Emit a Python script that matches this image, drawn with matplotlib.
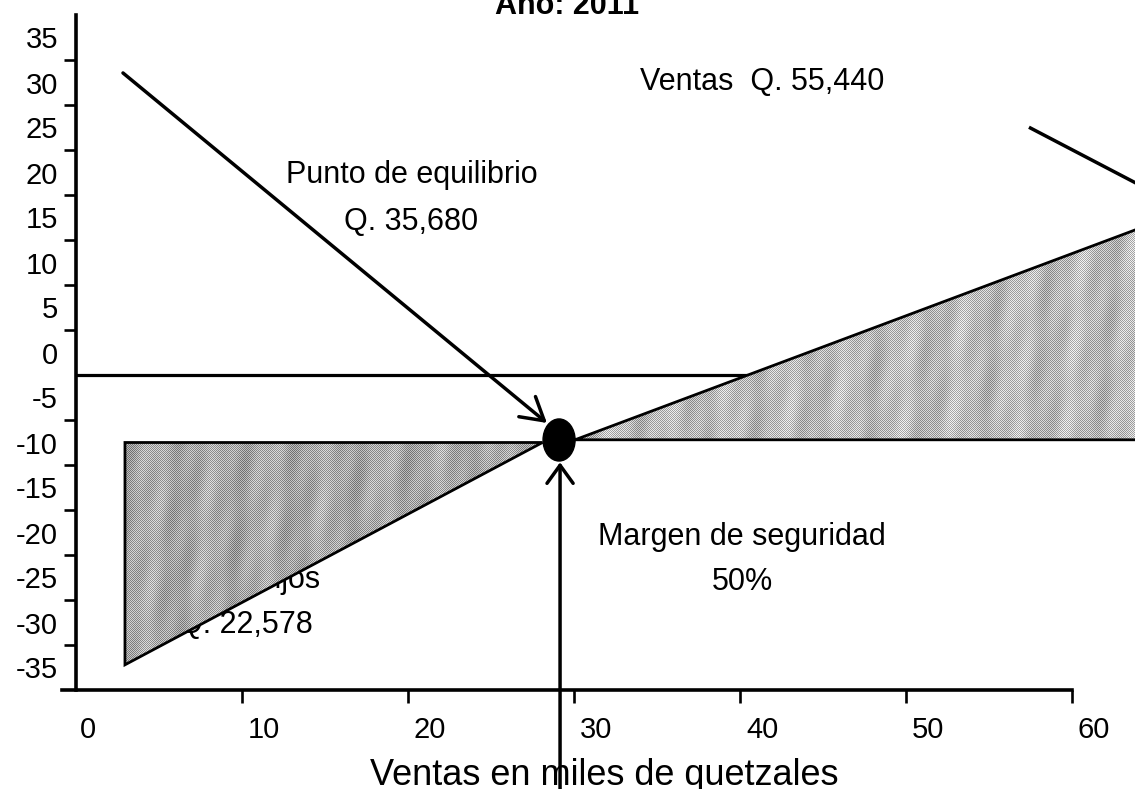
import numpy as np
import matplotlib
matplotlib.use("Agg")
import matplotlib.pyplot as plt
from matplotlib.patches import Polygon, Ellipse
from matplotlib.transforms import ScaledTranslation

plt.rcParams['font.family'] = ['Liberation Sans', 'DejaVu Sans']

# ---- data -------------------------------------------------------------
title = "Año: 2011"
x_label = "Ventas en miles de quetzales"
x_ticks = [0, 10, 20, 30, 40, 50, 60]
x_tick_labels = ["0", "10", "20", "30", "40", "50", "60"]
y_label_values = [35, 30, 25, 20, 15, 10, 5, 0, -5, -10, -15, -20, -25, -30, -35]
y_tick_labels = [str(v) for v in y_label_values]
y_tick_marks = [32.5, 27.5, 22.5, 17.5, 12.5, 7.5, 2.5,
                -7.5, -12.5, -17.5, -22.5, -27.5, -32.5]

# fixed-cost line
fixed_x = [0, 40.5]
fixed_y = [-2.5, -2.5]

# loss area (triangle)
loss_x = [2.95, 28.1, 2.95]
loss_y = [-10.0, -10.0, -34.7]

# profit area (triangle)
profit_x = [30.06, 64.5, 64.5]
profit_y = [-9.7, 14.1, -9.7]

# break-even point
be_x, be_y = 29.1, -9.72

# arrows
arrow1_start = (2.83, 31.06)
arrow1_end = (28.37, -7.83)
arrow2_start = (29.16, -50.0)
arrow2_end = (29.16, -12.2)

# line at the top right
tr_x = [57.5, 64.5]
tr_y = [24.94, 18.2]

annotations = [
    ("Ventas  Q. 55,440", 33.98, 29.2, 'left'),
    ("Punto de equilibrio", 20.24, 18.83, 'center'),
    ("Q. 35,680", 20.2, 13.61, 'center'),
    ("Margen de seguridad", 40.12, -21.39, 'center'),
    ("50%", 40.12, -26.39, 'center'),
]
hidden_annotations = [
    ("Costos fijos", 10.0, -26.17),
    ("Q. 22,578", 10.24, -31.17),
]

# ---- figure -----------------------------------------------------------
W, H = 1135, 789
fig = plt.figure(figsize=(W / 100, H / 100), dpi=100)
ax = fig.add_axes([0, 0, 1, 1])
ax.set_facecolor('white')
xlim = (-76 / 16.6, (W - 76) / 16.6)
ylim = (37.5 - (H - 15) / 9, 37.5 + 15 / 9)

for s in ['top', 'right']:
    ax.spines[s].set_visible(False)
ax.spines['left'].set_position(('data', 0))
ax.spines['left'].set_bounds(-37.5, 37.5)
ax.spines['bottom'].set_position(('data', -37.5))
ax.spines['bottom'].set_bounds(-0.85, 60)
for s in ['left', 'bottom']:
    ax.spines[s].set_linewidth(2.6)
    ax.spines[s].set_zorder(5)

# y ticks: marks at boundaries, labels centered in intervals
ax.set_yticks(y_tick_marks)
ax.set_yticklabels([])
ax.set_yticks(y_label_values, minor=True)
ax.set_yticklabels(y_tick_labels, minor=True)
ax.tick_params(axis='y', which='major', direction='out', length=8.6, width=1.9)
ax.tick_params(axis='y', which='minor', length=0, pad=13, labelsize=21)

# x ticks
ax.set_xticks(x_ticks)
ax.set_xticklabels(x_tick_labels)
ax.tick_params(axis='x', which='major', direction='out', length=9.4, width=1.9,
               pad=9, labelsize=21)
ticks = ax.xaxis.get_major_ticks()
ticks[0].tick1line.set_visible(False)
offsets_px = [12, 22, 22, 22, 22, 22, 22]
for t, off in zip(ticks, offsets_px):
    t.label1.set_transform(t.label1.get_transform() +
                           ScaledTranslation(off / 100, 0, fig.dpi_scale_trans))

ax.set_xlabel(x_label, fontsize=26, va='baseline')
ax.xaxis.set_label_coords(604.5 / W, 1 - 785 / H)

# title (cut at the top)
fig.text(0.5, 1 - 14 / H, title, ha='center', va='baseline',
         fontsize=22, fontweight='bold')

# hidden text (under the loss area)
for txt, x, y in hidden_annotations:
    ax.text(x, y, txt, ha='center', va='baseline', fontsize=22, zorder=2)

# fixed line
ax.plot(fixed_x, fixed_y, color='black', lw=2.3, zorder=3, solid_capstyle='butt')

# scanned-looking texture for the shaded areas
yy, xx = np.mgrid[0:H, 0:W]
checker = ((xx + yy) % 2) * 2 - 1


def texture(base):
    tone = (base
            + 0.035 * np.sin(2 * np.pi * xx / 57.0 + yy / 140.0)
            + 0.025 * np.sin(2 * np.pi * xx / 23.0 + yy / 35.0)
            + 0.02 * np.sin(2 * np.pi * (xx + 0.6 * yy) / 41.0))
    return np.clip(tone + 0.15 * checker, 0, 1)


for px, py, base in [(loss_x, loss_y, 0.66), (profit_x, profit_y, 0.73)]:
    poly = Polygon(np.column_stack([px, py]), closed=True,
                   facecolor='none', edgecolor='black', lw=2.0, zorder=4.5)
    ax.add_patch(poly)
    im = ax.imshow(texture(base), cmap='gray', vmin=0, vmax=1,
                   extent=(xlim[0], xlim[1], ylim[0], ylim[1]), origin='upper',
                   interpolation='nearest', aspect='auto', zorder=4)
    im.set_clip_path(poly)

# text labels
for txt, x, y, ha in annotations:
    ax.text(x, y, txt, ha=ha, va='baseline', fontsize=22, zorder=6)

# arrows
ax.annotate('', xy=arrow1_end, xytext=arrow1_start,
            arrowprops=dict(arrowstyle='->,head_length=0.8,head_width=0.47',
                            mutation_scale=20, lw=2.5, color='black',
                            shrinkA=0, shrinkB=0), zorder=7)
ax.annotate('', xy=arrow2_end, xytext=arrow2_start, annotation_clip=False,
            arrowprops=dict(arrowstyle='->,head_length=0.65,head_width=0.47',
                            mutation_scale=20, lw=2.5, color='black',
                            shrinkA=0, shrinkB=0), zorder=7)

ax.plot(tr_x, tr_y, color='black', lw=2.5, zorder=6)

# break-even dot
ax.add_patch(Ellipse((be_x, be_y), width=1.93, height=4.67,
                     facecolor='black', edgecolor='black', zorder=8))

ax.set_xlim(*xlim)
ax.set_ylim(*ylim)

fig.savefig('out.png', dpi=100, facecolor='white')
